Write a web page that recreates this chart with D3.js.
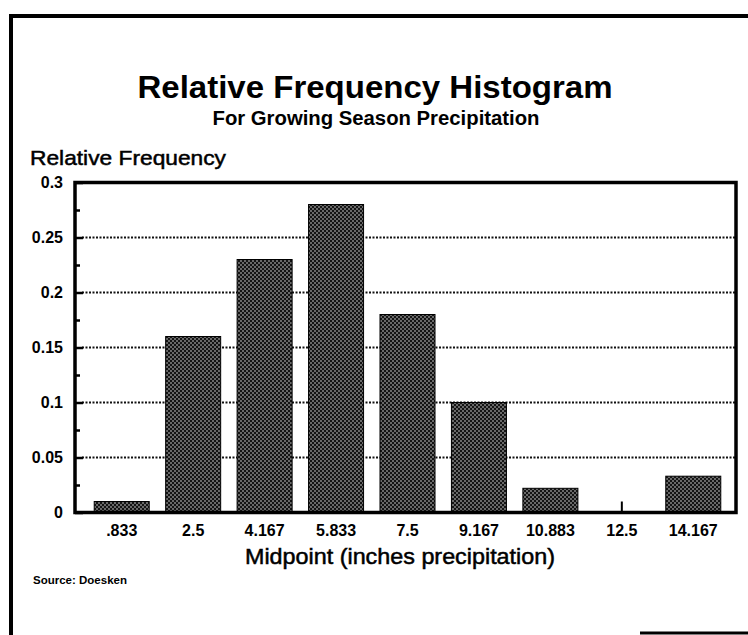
<!DOCTYPE html>
<html>
<head>
<meta charset="utf-8">
<script src="https://cdn.jsdelivr.net/npm/d3@7"></script>
<style>
  body { margin: 0; background: #fff; }
  svg { display: block; font-family: "Liberation Sans", Arial, Helvetica, sans-serif; }
</style>
</head>
<body>
<svg id="chart" width="748" height="635"></svg>
<script>
// values
var midpoints = ['.833', '2.5', '4.167', '5.833', '7.5', '9.167', '10.883', '12.5', '14.167'];
var relFreq   = [0.01, 0.16, 0.23, 0.28, 0.18, 0.1, 0.022, 0, 0.033];
var yTicks    = [0, 0.05, 0.1, 0.15, 0.2, 0.25, 0.3];
var yMinor    = [0.025, 0.075, 0.125, 0.175, 0.225, 0.275];
var yLabels   = ['0', '0.05', '0.1', '0.15', '0.2', '0.25', '0.3'];

var svg = d3.select('#chart');

var frame = {left: 75, top: 182.5, right: 736, bottom: 512.5};

var x = d3.scaleBand()
    .domain(midpoints)
    .range([86, 729])
    .paddingInner(0.23)
    .paddingOuter(0.115);

var y = d3.scaleLinear()
    .domain([0, 0.3])
    .range([frame.bottom, frame.top]);

// halftone fill of the bars
var pat = svg.append('defs').append('pattern')
    .attr('id', 'dots')
    .attr('width', 4).attr('height', 4)
    .attr('patternUnits', 'userSpaceOnUse');
pat.append('rect').attr('width', 4).attr('height', 4).attr('fill', '#141414');
pat.append('circle').attr('cx', 1).attr('cy', 1).attr('r', 0.75).attr('fill', '#e8e8e8');
pat.append('circle').attr('cx', 3).attr('cy', 3).attr('r', 0.75).attr('fill', '#e8e8e8');

// outer border (scan frame)
svg.append('line').attr('x1', 11).attr('y1', 14).attr('x2', 11).attr('y2', 635)
    .attr('stroke', '#000').attr('stroke-width', 4);
svg.append('line').attr('x1', 9).attr('y1', 16).attr('x2', 748).attr('y2', 16)
    .attr('stroke', '#000').attr('stroke-width', 4);
svg.append('line').attr('x1', 640).attr('y1', 633).attr('x2', 748).attr('y2', 633)
    .attr('stroke', '#000').attr('stroke-width', 3);

// titles
svg.append('text')
    .attr('x', 375).attr('y', 98)
    .attr('text-anchor', 'middle')
    .attr('font-size', 31).attr('font-weight', 'bold')
    .attr('textLength', 475).attr('lengthAdjust', 'spacingAndGlyphs')
    .text('Relative Frequency Histogram');

svg.append('text')
    .attr('x', 376).attr('y', 125)
    .attr('text-anchor', 'middle')
    .attr('font-size', 20).attr('font-weight', 'bold')
    .attr('textLength', 327).attr('lengthAdjust', 'spacingAndGlyphs')
    .text('For Growing Season Precipitation');

svg.append('text')
    .attr('x', 30).attr('y', 165)
    .attr('font-size', 21)
    .attr('stroke', '#000').attr('stroke-width', 0.5)
    .attr('textLength', 196).attr('lengthAdjust', 'spacingAndGlyphs')
    .text('Relative Frequency');

// gridlines
svg.append('g')
    .selectAll('line')
    .data(yTicks.filter(function(d){ return d > 0 && d < 0.3; }))
    .enter().append('line')
    .attr('x1', frame.left + 7).attr('x2', frame.right)
    .attr('y1', function(d){ return y(d); })
    .attr('y2', function(d){ return y(d); })
    .attr('stroke', '#111')
    .attr('stroke-width', 2)
    .attr('stroke-dasharray', '2,1.5');

// x axis (ticks point up into the plot, bars cover most of them)
var xAxis = svg.append('g')
    .attr('transform', 'translate(0,' + frame.bottom + ')')
    .call(d3.axisBottom(x).tickSize(-11).tickPadding(12));
xAxis.select('.domain').remove();
xAxis.selectAll('line').attr('stroke-width', 2);
xAxis.selectAll('text')
    .attr('font-size', 16).attr('font-weight', 'bold')
    .attr('font-family', '"Liberation Sans", Arial, sans-serif');

// bars
svg.append('g')
    .selectAll('rect')
    .data(relFreq)
    .enter().append('rect')
    .attr('x', function(d, i){ return x(midpoints[i]); })
    .attr('width', x.bandwidth())
    .attr('y', function(d){ return y(d); })
    .attr('height', function(d){ return y(0) - y(d); })
    .attr('fill', 'url(#dots)')
    .attr('stroke', '#000')
    .attr('stroke-width', function(d){ return d > 0 ? 1 : 0; });

// plot frame
svg.append('rect')
    .attr('x', frame.left).attr('y', frame.top)
    .attr('width', frame.right - frame.left)
    .attr('height', frame.bottom - frame.top)
    .attr('fill', 'none')
    .attr('stroke', '#000')
    .attr('stroke-width', 3.5);

// y axis, major and minor ticks pointing inward
var yAxis = svg.append('g')
    .attr('transform', 'translate(' + frame.left + ',0)')
    .call(d3.axisLeft(y).tickValues(yTicks).tickSize(-8).tickPadding(12)
        .tickFormat(function(d, i){ return yLabels[i]; }));
yAxis.select('.domain').remove();
yAxis.selectAll('line').attr('stroke-width', 2.5);
yAxis.selectAll('text')
    .attr('font-size', 16).attr('font-weight', 'bold')
    .attr('font-family', '"Liberation Sans", Arial, sans-serif');

var yMinorAxis = svg.append('g')
    .attr('transform', 'translate(' + frame.left + ',0)')
    .call(d3.axisLeft(y).tickValues(yMinor).tickSize(-5).tickFormat(''));
yMinorAxis.select('.domain').remove();
yMinorAxis.selectAll('line').attr('stroke-width', 2.5);

// x axis title and source note
svg.append('text')
    .attr('x', 400).attr('y', 564)
    .attr('text-anchor', 'middle')
    .attr('font-size', 22)
    .attr('stroke', '#000').attr('stroke-width', 0.5)
    .attr('textLength', 310).attr('lengthAdjust', 'spacingAndGlyphs')
    .text('Midpoint (inches precipitation)');

svg.append('text')
    .attr('x', 33).attr('y', 584)
    .attr('font-size', 11.5).attr('font-weight', 'bold')
    .text('Source: Doesken');
</script>
</body>
</html>
